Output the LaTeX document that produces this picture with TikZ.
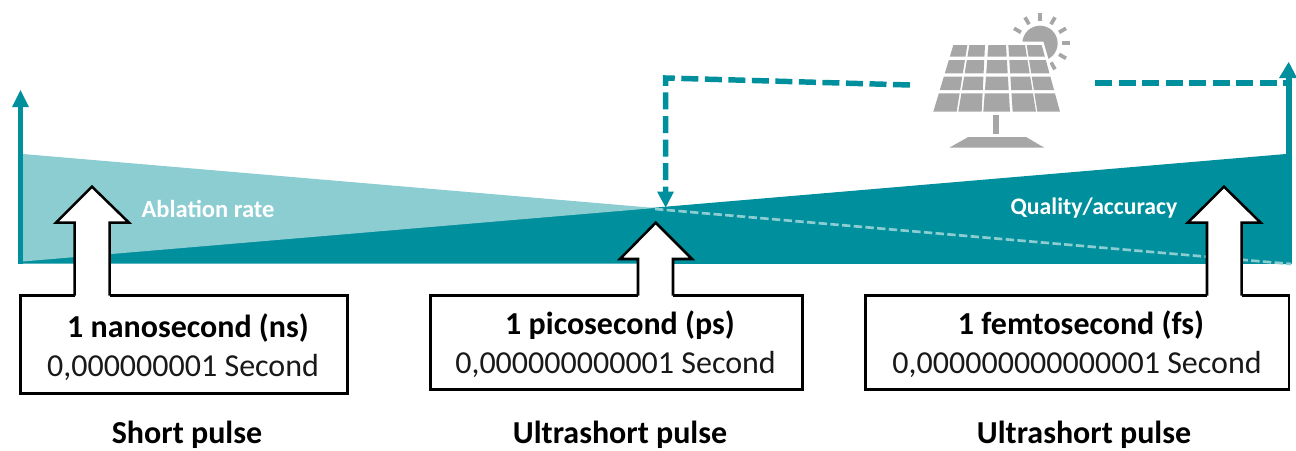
\documentclass[tikz,border=0pt]{standalone}
\usepackage{fontspec}
\usetikzlibrary{calc}
\setmainfont{Carlito}
\definecolor{teal1}{HTML}{008F9C}
\definecolor{teal2}{HTML}{8CCDD2}
\definecolor{greyp}{HTML}{A6A6A6}
\tikzset{
  x=0.75pt,y=-0.75pt,
  tealbar/.style={fill=teal1,draw=none},
  dashline/.style={draw=teal1,line width=4.1pt,dash pattern=on 12.75pt off 4.9pt},
  callout/.style={draw=black,line width=1.9pt,fill=white,line join=miter},
  boxtitle/.style={font=\fontsize{24}{26}\selectfont\bfseries,anchor=center,inner sep=0pt},
  boxsub/.style={font=\fontsize{24}{26}\selectfont,anchor=center,inner sep=0pt,text=black!90},
  caption/.style={font=\fontsize{24}{26}\selectfont\bfseries,anchor=center,inner sep=0pt},
  onfill/.style={font=\fontsize{18.4}{20}\selectfont\bfseries,text=white,anchor=center,inner sep=0pt},
  panelcell/.style={fill=greyp,draw=none},
}
\newcommand{\calloutarrow}[8]{%
  \fill[white] (#6,#3) rectangle (#7,#8+2);
  \draw[callout] (#6,#8) -- (#6,#3) -- (#4,#3) -- (#1,#2) -- (#5,#3) -- (#7,#3) -- (#7,#8);
}
\begin{document}
\begin{tikzpicture}
\useasboundingbox (0,0) rectangle (1296,450);
% dark wedge
\fill[teal1] (18,263.5) -- (18,260) -- (655,207.6) -- (1286,154) -- (1291.7,154) -- (1291.7,264) -- cycle;
% light triangle
\fill[teal2] (23,154) -- (655,208) -- (23,261.5) -- cycle;
% axes
\fill[tealbar] (18,263.5) rectangle (23.2,106);
\fill[tealbar] (12,107) -- (20.5,90) -- (29,107) -- cycle;
\fill[tealbar] (1285.7,264) rectangle (1291.7,76);
\fill[tealbar] (1279,78) -- (1288.7,62) -- (1297,78) -- cycle;
% light dashed line on dark wedge
\draw[draw=teal2,line width=2pt,dash pattern=on 6.3pt off 2.5pt] (655,209) -- (1291,264);
% dashed feedback
\coordinate (dstart) at (910,85);
\coordinate (dcorner) at (665.7,78);
\coordinate (dend) at (665.7,193);
\draw[dashline] (dstart) -- (dcorner) -- (dend);
\fill[tealbar] (657,191.5) -- (674,191.5) -- (665.7,207.5) -- cycle;
\coordinate (estart) at (1095,83);
\coordinate (eend) at (1286,83);
\draw[dashline] (estart) -- (eend);
% boxes
\draw[callout] (20.7,295.7) rectangle (347.3,393.3);
\draw[callout] (430.7,295.7) rectangle (802.3,389.3);
\draw[callout] (865.7,295.7) rectangle (1289,389.3);
% arrows
\calloutarrow{92}{186.7}{222.7}{56}{129}{74.7}{109.7}{295.7}
\calloutarrow{655.7}{222.7}{259}{620}{692}{638}{673}{295.7}
\calloutarrow{1224}{186.7}{222.7}{1187.7}{1260.7}{1207}{1241.7}{295.7}
% texts
\node[onfill] (t1) at (208,209) {Ablation rate};
\node[onfill,font=\fontsize{17.8}{20}\selectfont\bfseries] (t2) at (1094,208) {Quality/accuracy};
\node[boxtitle] (n1) at (188,328) {1 nanosecond (ns)};
\node[boxsub] (s1) at (183,367) {0,000000001 Second};
\node[boxtitle] (n2) at (620,325) {1 picosecond (ps)};
\node[boxsub] (s2) at (615.5,364) {0,000000000001 Second};
\node[boxtitle] (n3) at (1081,325) {1 femtosecond (fs)};
\node[boxsub] (s3) at (1077,364) {0,000000000000001 Second};
\node[caption] (c1) at (187,435) {Short pulse};
\node[caption] (c2) at (620,435) {Ultrashort pulse};
\node[caption] (c3) at (1084,435) {Ultrashort pulse};
% solar panel
\begin{scope}[shift={(900,0)},x=0.25pt,y=-0.25pt]
  \fill[greyp] (420,130) circle (53*0.25pt);
  \foreach \a in {-150,-120,-90,-60,-30,0,30,60}{
    \draw[greyp,line width=2.8pt] ($(420,130)+({66*cos(\a)},{66*sin(\a)})$) -- ($(420,130)+({90*cos(\a)},{90*sin(\a)})$);
  }
  \fill[white] (150,125) -- (430,125) -- (495,345) -- (90,345) -- cycle;
  \foreach \ya/\yb in {135/170,180/220,230/270,280/335}{
    \foreach \ta/\tb/\ba/\bb in {160/202/100/170,208/255/175/245,265/318/250/330,325/375/338/408,380/425/412/480}{
      \pgfmathsetmacro{\fa}{(\ya-135)/200}
      \pgfmathsetmacro{\fb}{(\yb-135)/200}
      \pgfmathsetmacro{\xa}{\ta+(\ba-\ta)*\fa}
      \pgfmathsetmacro{\xb}{\tb+(\bb-\tb)*\fa}
      \pgfmathsetmacro{\xc}{\tb+(\bb-\tb)*\fb}
      \pgfmathsetmacro{\xd}{\ta+(\ba-\ta)*\fb}
      \fill[panelcell] (\xa,\ya) -- (\xb,\ya) -- (\xc,\yb) -- (\xd,\yb) -- cycle;
    }
  }
  \fill[greyp] (280,345) rectangle (298,403);
  \fill[greyp] (148,443) -- (205,411) -- (378,411) -- (433,443) -- cycle;
\end{scope}
\end{tikzpicture}
\end{document}
